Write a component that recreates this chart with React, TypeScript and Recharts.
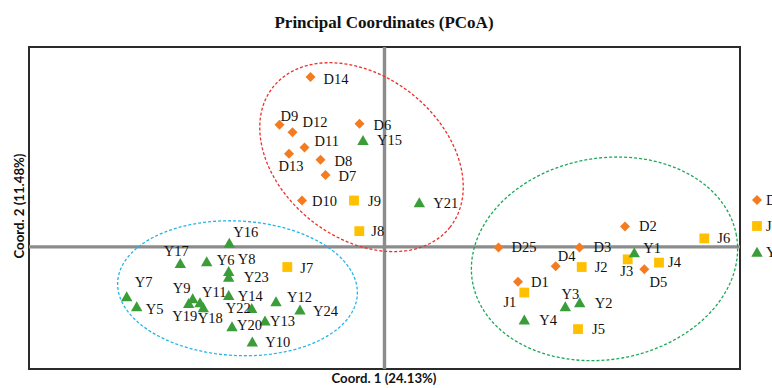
import React from 'react';
import { ScatterChart, Scatter, XAxis, YAxis, ReferenceLine, ReferenceArea } from 'recharts';

// ---- Sample coordinates (Coord. 1, Coord. 2) ----
const dNames = ['D1', 'D2', 'D3', 'D4', 'D5', 'D6', 'D7', 'D8', 'D9', 'D10', 'D11', 'D12', 'D13', 'D14', 'D25'];
const dCoord1 = [0.1335, 0.2405, 0.195, 0.1712, 0.2598, -0.025, -0.059, -0.064, -0.105, -0.0825, -0.08, -0.092, -0.0955, -0.074, 0.114];
const dCoord2 = [-0.035, 0.0205, -0.0005, -0.0195, -0.0225, 0.1235, 0.072, 0.0875, 0.1225, 0.0465, 0.0997, 0.115, 0.0935, 0.1705, -0.0005];

const jNames = ['J1', 'J2', 'J3', 'J4', 'J5', 'J6', 'J7', 'J8', 'J9'];
const jCoord1 = [0.1398, 0.1972, 0.2432, 0.2745, 0.1935, 0.3198, -0.0972, -0.0252, -0.0305];
const jCoord2 = [-0.0458, -0.0202, -0.0125, -0.0158, -0.0825, 0.0085, -0.0202, 0.0158, 0.0465];

const yNames = ['Y1', 'Y2', 'Y3', 'Y4', 'Y5', 'Y6', 'Y7', 'Y8', 'Y9', 'Y10', 'Y11', 'Y12', 'Y13', 'Y14', 'Y15', 'Y16', 'Y17', 'Y18', 'Y19', 'Y20', 'Y21', 'Y22', 'Y23', 'Y24'];
const yCoord1 = [0.2498, 0.1952, 0.1808, 0.1398, -0.2478, -0.1778, -0.2578, -0.1558, -0.1918, -0.1322, -0.1845, -0.1085, -0.1195, -0.1558, -0.0215, -0.1552, -0.2042, -0.1812, -0.1958, -0.1525, 0.0348, -0.1328, -0.1558, -0.0845];
const yCoord2 = [-0.0058, -0.0558, -0.0598, -0.0732, -0.0598, -0.0148, -0.0498, -0.0245, -0.0518, -0.0952, -0.0558, -0.0548, -0.0742, -0.0485, 0.1068, 0.0038, -0.0165, -0.0608, -0.0565, -0.0798, 0.0445, -0.0615, -0.0302, -0.0632];

// Group confidence ellipses: centre, semi-axes (data units), rotation in degrees
const ellipseCentres = [[-0.023, 0.09], [-0.147, -0.0415], [0.22, -0.012]];
const ellipseRadii = [[0.113, 0.081], [0.12, 0.0675], [0.134, 0.101]];
const ellipseAngles = [-38.6, -3, 10];
const ellipseColors = ['#e8302a', '#25b4ea', '#18a955'];

const X_DOMAIN: [number, number] = [-0.3555, 0.3555];
const Y_DOMAIN: [number, number] = [-0.1225, 0.2005];

type Kind = 'diamond' | 'square' | 'triangle';
const GROUPS: { name: string; kind: Kind; color: string; names: string[]; xs: number[]; ys: number[] }[] = [
  { name: 'D', kind: 'diamond', color: '#f47b20', names: dNames, xs: dCoord1, ys: dCoord2 },
  { name: 'J', kind: 'square', color: '#ffc000', names: jNames, xs: jCoord1, ys: jCoord2 },
  { name: 'Y', kind: 'triangle', color: '#3a9d3a', names: yNames, xs: yCoord1, ys: yCoord2 },
];

// Label placement around each marker: [dx, dy, anchor]
const LABEL_POS: Record<string, [number, number, 'start' | 'middle' | 'end']> = {
  D14: [13, 2, 'start'], D9: [1, -9, 'start'], D12: [10, -10, 'start'], D6: [14, 1, 'start'],
  D11: [10, -6, 'start'], D13: [2, 12, 'middle'], D8: [14, 1, 'start'], D7: [13, 1, 'start'],
  D10: [10, 0, 'start'], D2: [14, 0, 'start'], D25: [13, 0, 'start'], D3: [14, 0, 'start'],
  D4: [2, -10, 'start'], D5: [14, 13, 'middle'], D1: [13, 0, 'start'],
  J1: [-8, 9, 'end'], J2: [13, 0, 'start'], J3: [-1, 12, 'middle'], J4: [9, -1, 'start'],
  J5: [14, 0, 'start'], J6: [13, 0, 'start'], J7: [13, 1, 'start'], J8: [12, 0, 'start'], J9: [14, 0, 'start'],
  Y1: [9, -5, 'start'], Y2: [15, 0, 'start'], Y3: [5, -12, 'middle'], Y4: [15, 0, 'start'],
  Y5: [9, 3, 'start'], Y6: [10, -2, 'start'], Y7: [8, -15, 'start'], Y8: [9, -12, 'start'],
  Y9: [-11, -11, 'middle'], Y10: [13, 0, 'start'], Y11: [2, -11, 'start'], Y12: [11, -5, 'start'],
  Y13: [5, 0, 'start'], Y14: [9, 1, 'start'], Y15: [14, 0, 'start'], Y16: [4, -11, 'start'],
  Y17: [-4, -12, 'middle'], Y18: [7, 11, 'middle'], Y19: [-4, 13, 'middle'], Y20: [5, -1, 'start'],
  Y21: [14, 0, 'start'], Y22: [-1, 0, 'end'], Y23: [15, 0, 'start'], Y24: [13, 1, 'start'],
};

const SERIF = '"Liberation Serif", "Times New Roman", serif';
const SANS = 'Lato, "Open Sans", sans-serif';

function Marker({ kind, cx, cy, color }: { kind: Kind; cx: number; cy: number; color: string }) {
  if (kind === 'diamond') {
    const r = 5;
    return <polygon points={`${cx},${cy - r} ${cx + r},${cy} ${cx},${cy + r} ${cx - r},${cy}`} fill={color} />;
  }
  if (kind === 'square') {
    const h = 4.9;
    return <rect x={cx - h} y={cy - h} width={h * 2} height={h * 2} fill={color} />;
  }
  return <polygon points={`${cx},${cy - 5.3} ${cx + 5.7},${cy + 4.7} ${cx - 5.7},${cy + 4.7}`} fill={color} />;
}

function makeShape(kind: Kind, color: string) {
  return (props: any) => {
    const { cx, cy, payload } = props;
    if (cx == null || cy == null) return <g />;
    const pos = LABEL_POS[payload.name] || [12, 0, 'start'];
    return (
      <g>
        <Marker kind={kind} cx={cx} cy={cy} color={color} />
        <text
          x={cx + pos[0]}
          y={cy + pos[1]}
          textAnchor={pos[2]}
          dominantBaseline="central"
          fontFamily={SERIF}
          fontSize={14.5}
          fill="#111"
        >
          {payload.name}
        </text>
      </g>
    );
  };
}

function ellipseOutline(i: number) {
  const [cx, cy] = ellipseCentres[i];
  const [rx, ry] = ellipseRadii[i];
  const th = (ellipseAngles[i] * Math.PI) / 180;
  const pts: { x: number; y: number }[] = [];
  const n = 160;
  for (let k = 0; k <= n; k++) {
    const t = (k / n) * Math.PI * 2;
    pts.push({
      x: cx + rx * Math.cos(t) * Math.cos(th) - ry * Math.sin(t) * Math.sin(th),
      y: cy + rx * Math.cos(t) * Math.sin(th) + ry * Math.sin(t) * Math.cos(th),
    });
  }
  return pts;
}

export default function App() {
  const groupData = GROUPS.map((g) => g.names.map((name, i) => ({ name, x: g.xs[i], y: g.ys[i] })));

  return (
    <div style={{ position: 'absolute', left: 0, top: 0, width: 772, height: 388, background: '#fff' }}>
      <ScatterChart width={772} height={388} margin={{ top: 47, right: 32, bottom: 19, left: 29 }}>
        <XAxis type="number" dataKey="x" domain={X_DOMAIN} allowDataOverflow hide />
        <YAxis type="number" dataKey="y" domain={Y_DOMAIN} allowDataOverflow hide />
        <ReferenceLine x={0} stroke="#8c8c8c" strokeWidth={3.4} />
        <ReferenceLine y={0} stroke="#8c8c8c" strokeWidth={3.4} />
        {ellipseColors.map((c, i) => (
          <Scatter
            key={`ell-${i}`}
            data={ellipseOutline(i)}
            line={{ stroke: c, strokeWidth: 1.3, strokeDasharray: '3 2' }}
            lineType="joint"
            stroke={c}
            fill="none"
            shape={() => <g />}
            legendType="none"
            isAnimationActive={false}
          />
        ))}
        {GROUPS.map((g, gi) => (
          <Scatter
            key={g.name}
            name={g.name}
            data={groupData[gi]}
            fill={g.color}
            shape={makeShape(g.kind, g.color)}
            isAnimationActive={false}
          />
        ))}
        <ReferenceArea
          x1={X_DOMAIN[0]}
          x2={X_DOMAIN[1]}
          y1={Y_DOMAIN[0]}
          y2={Y_DOMAIN[1]}
          fill="none"
          fillOpacity={0}
          stroke="#2b2b2b"
          strokeWidth={2}
          ifOverflow="visible"
        />
      </ScatterChart>
      <svg
        width={772}
        height={388}
        style={{ position: 'absolute', left: 0, top: 0, pointerEvents: 'none' }}
      >
        <text x={384} y={22} textAnchor="middle" dominantBaseline="central" fontFamily={SERIF} fontWeight="bold" fontSize={17} fill="#111">
          Principal Coordinates (PCoA)
        </text>
        <text x={384} y={378} textAnchor="middle" dominantBaseline="central" fontFamily={SANS} fontWeight="bold" fontSize={13.2} fill="#111">
          Coord. 1 (24.13%)
        </text>
        <text
          x={19}
          y={206}
          textAnchor="middle"
          dominantBaseline="central"
          transform="rotate(-90 19 206)"
          fontFamily={SANS}
          fontWeight="bold"
          fontSize={13.2}
          fill="#111"
        >
          Coord. 2 (11.48%)
        </text>
        {GROUPS.map((g, i) => {
          const cy = 200 + i * 26;
          return (
            <g key={g.name}>
              <Marker kind={g.kind} cx={757} cy={cy} color={g.color} />
              <text x={766} y={cy} dominantBaseline="central" fontFamily={SERIF} fontSize={14.5} fill="#111">
                {g.name}
              </text>
            </g>
          );
        })}
      </svg>
    </div>
  );
}
